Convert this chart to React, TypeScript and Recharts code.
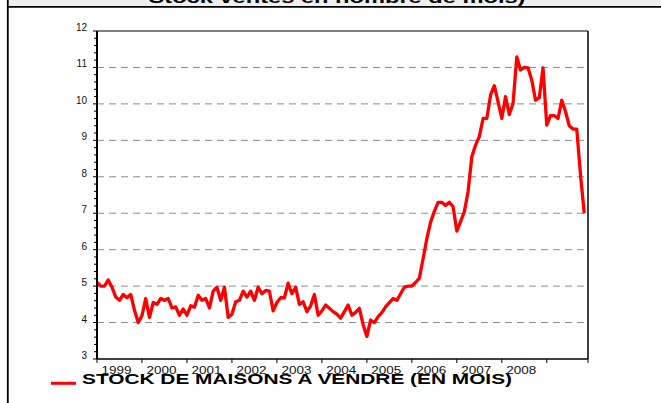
import { Line, LineChart, ReferenceLine, XAxis, YAxis } from "recharts";

const title = "Stock ventes en nombre de mois)";
const seriesName = "STOCK DE MAISONS A VENDRE (EN MOIS)";

const yearLabels = ["1999", "2000", "2001", "2002", "2003", "2004", "2005", "2006", "2007", "2008"];
// month index where each year begins, plus the end of the axis
const xTicks = [0, 12, 24, 36, 48, 60, 72, 84, 96, 108, 120, 131];
const yTicks = [3, 4, 5, 6, 7, 8, 9, 10, 11, 12];
const gridValues = [4, 5, 6, 7, 8, 9, 10, 11];

// monthly, Jan 1999 onwards
const stock = [
  5.11, 5.0, 5.0, 5.17, 4.97, 4.7, 4.61, 4.77, 4.68, 4.77, 4.34, 4.0,
  4.19, 4.66, 4.14, 4.55, 4.5, 4.66, 4.61, 4.66, 4.4, 4.43, 4.2, 4.37,
  4.2, 4.46, 4.42, 4.75, 4.61, 4.66, 4.4, 4.86, 4.97, 4.61, 4.97, 4.14,
  4.23, 4.57, 4.61, 4.86, 4.7, 4.86, 4.61, 4.97, 4.79, 4.88, 4.86, 4.32,
  4.55, 4.68, 4.68, 5.08, 4.79, 4.97, 4.5, 4.57, 4.3, 4.46, 4.77, 4.2,
  4.32, 4.48, 4.39, 4.3, 4.23, 4.12, 4.3, 4.48, 4.2, 4.28, 4.39, 3.94,
  3.62, 4.07, 4.0, 4.16, 4.27, 4.43, 4.55, 4.66, 4.61, 4.79, 4.97, 5.0,
  5.0, 5.1, 5.22, 5.75, 6.3, 6.75, 7.05, 7.3, 7.3, 7.21, 7.3, 7.18,
  6.51, 6.77, 7.04, 7.59, 8.55, 8.87, 9.1, 9.6, 9.6, 10.24, 10.5, 10.06,
  9.6, 10.2, 9.71, 10.01, 11.29, 10.93, 11.0, 10.99, 10.65, 10.1, 10.17, 10.99,
  9.42, 9.68, 9.68, 9.6, 10.1, 9.79, 9.4, 9.31, 9.31, 8.05, 7.0,
];

const data = stock.map((v, m) => ({ m, v }));

const allYTicks: number[] = [];
yTicks.forEach((t, i) => {
  allYTicks.push(t);
  if (i < yTicks.length - 1) {
    for (let k = 1; k < 5; k++) allYTicks.push(Math.round((t + k * 0.2) * 10) / 10);
  }
});

const font = '"Liberation Sans", Arial, sans-serif';

function YearTick(props: any) {
  const { x, y, index } = props;
  const label = yearLabels[index];
  return (
    <g>
      <line x1={x} y1={y} x2={x} y2={y + 4} stroke="#000" strokeWidth={1} />
      {label && (
        <text
          x={x + 19.5}
          y={y + 15}
          textAnchor="middle"
          fontSize={11}
          fontFamily={font}
          fill="#111"
          textLength={30}
          lengthAdjust="spacingAndGlyphs"
        >
          {label}
        </text>
      )}
    </g>
  );
}

function ValueTick(props: any) {
  const { x, y, payload } = props;
  const v = payload.value;
  const major = Math.abs(v - Math.round(v)) < 1e-6;
  return (
    <g>
      <line x1={x - (major ? 4 : 3)} y1={y} x2={x} y2={y} stroke="#000" strokeWidth={1} />
      {major && (
        <text x={x - 10} y={y} textAnchor="end" fontSize={10} fontFamily={font} fill="#111">
          {Math.round(v)}
        </text>
      )}
    </g>
  );
}

export default function App() {
  return (
    <div style={{ position: "absolute", left: 0, top: 0, width: 661, height: 403, background: "#fff" }}>
      <LineChart
        width={661}
        height={403}
        data={data}
        margin={{ top: 31, right: 73, left: 67, bottom: 14 }}
      >
        {gridValues.map((g) => (
          <ReferenceLine key={g} y={g} stroke="#8c8c8c" strokeDasharray="7 5" strokeWidth={1} />
        ))}
        <XAxis
          type="number"
          dataKey="m"
          domain={[0, 131]}
          ticks={xTicks}
          interval={0}
          height={30}
          tickSize={0}
          tickMargin={0}
          tickLine={false}
          axisLine={{ stroke: "#000", strokeWidth: 1.5 }}
          tick={(p: any) => <YearTick {...p} />}
        />
        <YAxis
          type="number"
          domain={[3, 12]}
          ticks={allYTicks}
          interval={0}
          width={30}
          tickSize={0}
          tickMargin={0}
          tickLine={false}
          axisLine={{ stroke: "#000", strokeWidth: 2 }}
          tick={(p: any) => <ValueTick {...p} />}
        />
        <ReferenceLine y={12} stroke="#000" strokeWidth={1.2} />
        <ReferenceLine x={131} stroke="#000" strokeWidth={1.5} />
        <Line
          dataKey="v"
          name={seriesName}
          type="linear"
          stroke="#ff0000"
          strokeWidth={3.3}
          strokeLinejoin="round"
          dot={false}
          isAnimationActive={false}
        />
      </LineChart>
      <svg
        width={661}
        height={403}
        style={{ position: "absolute", left: 0, top: 0, pointerEvents: "none" }}
      >
        <rect x={9} y={0} width={652} height={6} fill="#efefef" />
        <text
          x={337}
          y={2.5}
          textAnchor="middle"
          fontSize={16}
          fontWeight="bold"
          fontFamily={font}
          fill="#000"
          textLength={377}
          lengthAdjust="spacingAndGlyphs"
        >
          {title}
        </text>
        <line x1={8} y1={6.8} x2={661} y2={6.8} stroke="#000" strokeWidth={1.8} />
        <line x1={7.8} y1={0} x2={7.8} y2={403} stroke="#000" strokeWidth={1.8} />
        <line x1={51} y1={383.3} x2={76} y2={383.3} stroke="#ff0000" strokeWidth={3} />
        <text
          x={82}
          y={383.5}
          fontSize={15}
          fontWeight="bold"
          fontFamily={font}
          fill="#000"
          textLength={430}
          lengthAdjust="spacingAndGlyphs"
        >
          {seriesName}
        </text>
      </svg>
    </div>
  );
}
